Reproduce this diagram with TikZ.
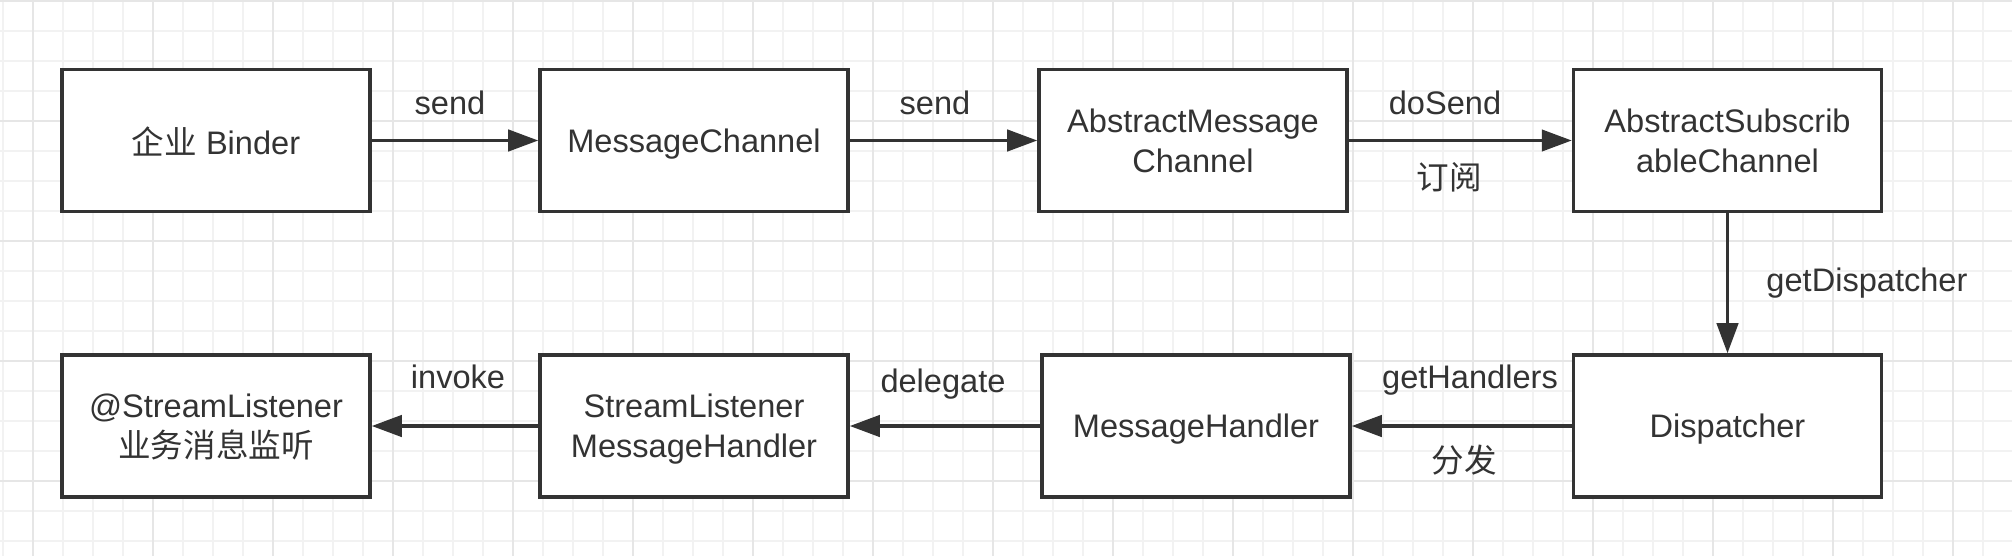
\documentclass[tikz,border=0pt]{standalone}
\usepackage{fontspec}
\setmainfont{Liberation Sans}
\newfontfamily\cjk{Noto Sans CJK SC}
\usetikzlibrary{arrows.meta}
\definecolor{ink}{HTML}{333333}
\definecolor{gridminor}{HTML}{F2F2F2}
\definecolor{gridmajor}{HTML}{E6E6E6}
\tikzset{
    box/.style = {draw = ink, line width = 1.5pt, fill = white, text = ink,
        minimum width = 4.62cm, minimum height = 2.13cm, inner sep = 0pt,
        text depth = 0pt, align = center, font = \fontsize{13.9}{17}\selectfont},
    lbl/.style = {text = ink, inner sep = 0pt, text depth = 0pt,
        font = \fontsize{13.9}{17}\selectfont},
    flow/.style = {draw = ink, line width = 1.4pt, -{Triangle[length = 0.45cm, width = 0.32cm]}},
}

\begin{document}
\begin{tikzpicture}[x = 0.015cm, y = -0.015cm]
        \useasboundingbox (0, 0) rectangle (2012, 556);
        \fill[white] (0, 0) rectangle (2012, 556);
        % grid
        \foreach \x in {3,33,...,2013}
            {
                \draw[gridminor, line width = 0.6pt] (\x, 0) -- (\x, 556);
            }
        \foreach \y in {1,31,...,556}
            {
                \draw[gridminor, line width = 0.6pt] (0, \y) -- (2012, \y);
            }
        \foreach \x in {33,153,...,2013}
            {
                \draw[gridmajor, line width = 0.8pt] (\x, 0) -- (\x, 556);
            }
        \foreach \y in {1,121,...,556}
            {
                \draw[gridmajor, line width = 0.8pt] (0, \y) -- (2012, \y);
            }
        % boxes
        \node[box] (binder) at (216, 140.5) {{\cjk 企业} Binder};
        \node[box] (msgchannel) at (694, 140.5) {MessageChannel};
        \node[box] (abstractmsg) at (1193, 140.5) {AbstractMessage\\Channel};
        \node[box] (subscribable) at (1727.5, 140.5) {AbstractSubscrib\\ableChannel};
        \node[box] (dispatcher) at (1727.5, 426) {Dispatcher};
        \node[box] (msghandler) at (1196, 426) {MessageHandler};
        \node[box] (slhandler) at (694, 426) {StreamListener\\MessageHandler};
        \node[box] (listener) at (216, 426) {@StreamListener\\{\cjk 业务消息监听}};
        % arrows
        \draw[flow] (binder) -- (msgchannel);
        \draw[flow] (msgchannel) -- (abstractmsg);
        \draw[flow] (abstractmsg) -- (subscribable);
        \draw[flow] (subscribable) -- (dispatcher);
        \draw[flow] (dispatcher) -- (msghandler);
        \draw[flow] (msghandler) -- (slhandler);
        \draw[flow] (slhandler) -- (listener);
        % labels
        \node[lbl] (lsend) at (450, 103) {send};
        \node[lbl] (lsendagain) at (935, 103) {send};
        \node[lbl] (ldosend) at (1445, 103) {doSend};
        \node[lbl] (lsubscribe) at (1449, 176) {\cjk 订阅};
        \node[lbl, anchor = west] (lgetdispatcher) at (1766, 280) {getDispatcher};
        \node[lbl] (lgethandlers) at (1470, 377) {getHandlers};
        \node[lbl] (ldispatch) at (1464, 459) {\cjk 分发};
        \node[lbl] (ldelegate) at (943, 381) {delegate};
        \node[lbl] (linvoke) at (458, 377) {invoke};
    \end{tikzpicture}
\end{document}
